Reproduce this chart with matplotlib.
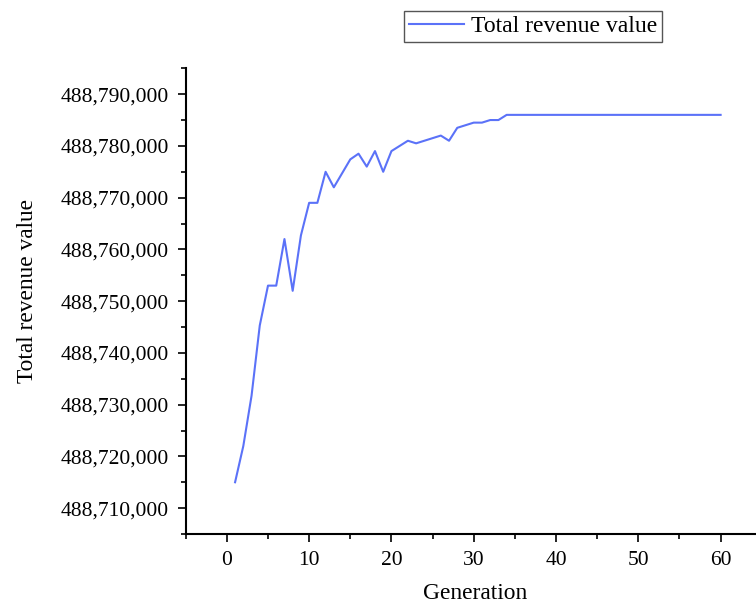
import numpy as np
import matplotlib.pyplot as plt
from matplotlib.ticker import MultipleLocator, FuncFormatter

plt.rcParams["font.family"] = ["Liberation Serif", "DejaVu Serif"]

# Generation index and best total revenue value per generation
generation = np.arange(1, 61)
revenue_offset = 488_000_000
revenue_rel = [
    715000, 722000, 731700, 745300, 753000, 753000, 762000, 752000, 762700, 769000,
    769000, 775000, 772000, 774700, 777400, 778500, 776000, 779000, 775000, 779000,
    780000, 781000, 780500, 781000, 781500, 782000, 781000, 783500, 784000, 784500,
    784500, 785000, 785000, 786000, 786000, 786000, 786000, 786000, 786000, 786000,
    786000, 786000, 786000, 786000, 786000, 786000, 786000, 786000, 786000, 786000,
    786000, 786000, 786000, 786000, 786000, 786000, 786000, 786000, 786000, 786000,
]
revenue = np.array(revenue_rel) + revenue_offset

fig = plt.figure(figsize=(7.56, 6.04), dpi=100)
ax = fig.add_axes([185.7 / 756, 1 - 534 / 604, 1 - 185.7 / 756, (534 - 68.3) / 604])

line, = ax.plot(generation, revenue, color="#5b72f8", lw=1.5, label="Total revenue value")

ax.set_xlim(-5, 64.3)
ax.set_ylim(revenue_offset + 705000, revenue_offset + 795000)
ax.xaxis.set_major_locator(MultipleLocator(10))
ax.xaxis.set_minor_locator(MultipleLocator(5))
ax.yaxis.set_major_locator(MultipleLocator(10000))
ax.yaxis.set_minor_locator(MultipleLocator(5000))
ax.yaxis.set_major_formatter(FuncFormatter(lambda v, p: f"{v:,.0f}"))

for side in ["top", "right"]:
    ax.spines[side].set_visible(False)
for side in ["left", "bottom"]:
    ax.spines[side].set_linewidth(1.5)

ax.tick_params(which="major", direction="out", length=5.5, width=1.2,
               labelsize=15.5, pad=6.5, colors="black")
ax.tick_params(which="minor", direction="out", length=3.3, width=1.2)

ax.set_xlabel("Generation", fontsize=16.8)
ax.set_ylabel("Total revenue value", fontsize=16.8)
ax.xaxis.set_label_coords(0.507, -0.128)
ax.yaxis.set_label_coords(-0.278, 0.522)
ax.yaxis.label.set_va("center")
ax.xaxis.label.set_va("center")

leg = ax.legend(loc="upper left", bbox_to_anchor=(404 / 756, 1 - 11 / 604),
                bbox_transform=fig.transFigure, borderaxespad=0, fontsize=17,
                handlelength=2.35, handletextpad=0.28, borderpad=0.2,
                fancybox=False, framealpha=1)
leg.get_frame().set_edgecolor("#555555")
leg.get_frame().set_linewidth(1.0)

fig.savefig("out.png", dpi=100)
